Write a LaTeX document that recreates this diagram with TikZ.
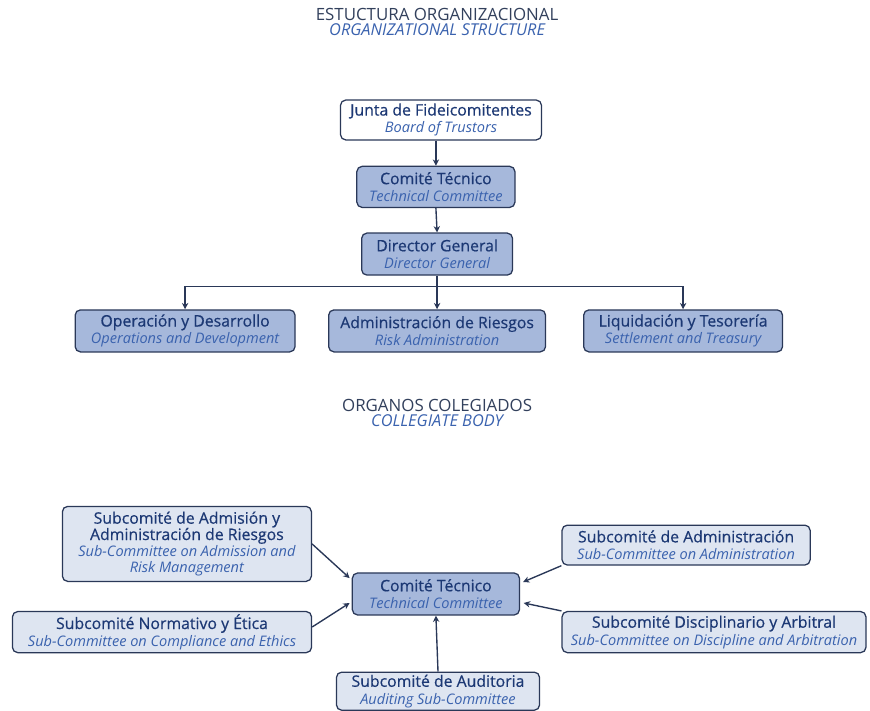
\documentclass[tikz,border=0pt]{standalone}
\usepackage{fontspec}
\setmainfont{Open Sans}
\newfontfamily\esfont{Open Sans}[FakeBold=0.5]
\usetikzlibrary{arrows.meta}
\definecolor{orgAzul}{RGB}{28,56,116}
\definecolor{orgAzulClaro}{RGB}{58,98,174}
\definecolor{orgTitulo}{RGB}{50,64,92}
\definecolor{orgBorde}{RGB}{42,56,88}
\definecolor{orgFondo}{RGB}{166,184,219}
\definecolor{orgFondoClaro}{RGB}{222,229,241}
\newcommand{\es}[1]{{\color{orgAzul}\esfont\fontsize{15}{16.5}\selectfont #1}}
\newcommand{\en}[1]{{\color{orgAzulClaro}\fontsize{13.8}{16.5}\selectfont\itshape #1}}

\begin{document}
\begin{tikzpicture}[
  x=1cm, y=1cm, >={Stealth[length=6pt,width=6pt]},
  caja/.style={draw=orgBorde, line width=1.2pt, rounded corners=5pt, align=center,
               fill=orgFondo, inner sep=1pt, font=\fontsize{15}{16.5}\selectfont},
  cajaclara/.style={caja, fill=orgFondoClaro},
  flecha/.style={->, line width=1.3pt, orgBorde},
  titulo/.style={align=center, font=\fontsize{16}{14.5}\selectfont}
]
\useasboundingbox (0,0) rectangle (29,23.7);

% estructura organizacional
\node[titulo] (tit1) at (14.57,22.97)
     {{\color{orgTitulo}ESTUCTURA ORGANIZACIONAL}\\
      {\color{orgAzulClaro}\fontsize{15.5}{14.5}\selectfont\itshape ORGANIZATIONAL STRUCTURE}};

\node[caja, fill=white, minimum width=6.7cm, minimum height=1.33cm] (junta) at (14.7,19.7)
     {\es{Junta de Fideicomitentes}\\\en{Board of Trustors}};
\node[caja, minimum width=5.27cm, minimum height=1.37cm] (comite) at (14.53,17.47)
     {\es{Comité Técnico}\\\en{Technical Committee}};
\node[caja, minimum width=5.03cm, minimum height=1.4cm] (dir) at (14.57,15.23)
     {\es{Director General}\\\en{Director General}};

\node[caja, minimum width=7.33cm, minimum height=1.4cm] (oper) at (6.17,12.67)
     {\es{Operación y Desarrollo}\\\en{Operations and Development}};
\node[caja, minimum width=7.23cm, minimum height=1.4cm] (riesgos) at (14.57,12.67)
     {\es{Administración de Riesgos}\\\en{Risk Administration}};
\node[caja, minimum width=6.63cm, minimum height=1.4cm] (liq) at (22.77,12.67)
     {\es{Liquidación y Tesorería}\\\en{Settlement and Treasury}};

\draw[flecha] (junta.south -| comite.north) -- (comite.north);
\draw[flecha] (comite.south) -- (dir.north);
\draw[flecha] (dir.south) -- (riesgos.north);
\path (dir.south) -- (riesgos.north) coordinate[pos=0.32] (rama);
\draw[flecha] (rama) -| (oper.north);
\draw[flecha] (rama) -| (liq.north);

% organos colegiados
\node[titulo] (tit2) at (14.57,9.94)
     {{\color{orgTitulo}ORGANOS COLEGIADOS}\\
      {\color{orgAzulClaro}\fontsize{15.5}{14.5}\selectfont\itshape COLLEGIATE BODY}};

\node[caja, minimum width=5.57cm, minimum height=1.4cm] (ct) at (14.53,3.9)
     {\es{Comité Técnico}\\\en{Technical Committee}};
\node[cajaclara, minimum width=8.3cm, minimum height=2.5cm] (admision) at (6.23,5.57)
     {\es{Subcomité de Admisión y}\\[-1pt]\es{Administración de Riesgos}\\[-1pt]
      \en{Sub-Committee on Admission and}\\[-1pt]\en{Risk Management}};
\node[cajaclara, minimum width=9.97cm, minimum height=1.37cm] (normativo) at (5.4,2.63)
     {\es{Subcomité Normativo y Ética}\\\en{Sub-Committee on Compliance and Ethics}};
\node[cajaclara, minimum width=8.27cm, minimum height=1.33cm] (admin) at (22.87,5.53)
     {\es{Subcomité de Administración}\\\en{Sub-Committee on Administration}};
\node[cajaclara, minimum width=10.13cm, minimum height=1.37cm] (discip) at (23.8,2.63)
     {\es{Subcomité Disciplinario y Arbitral}\\\en{Sub-Committee on Discipline and Arbitration}};
\node[cajaclara, minimum width=6.77cm, minimum height=1.27cm] (audit) at (14.6,0.66)
     {\es{Subcomité de Auditoria}\\\en{Auditing Sub-Committee}};

\draw[flecha] (admision.east) -- ([shift={(-0.07,0.53)}]ct.west);
\draw[flecha] ([yshift=0.17cm]normativo.east) -- ([shift={(-0.07,-0.3)}]ct.west);
\draw[flecha] (admin.south west) -- ([shift={(0.1,0.4)}]ct.east);
\draw[flecha] (discip.north west) -- ([shift={(0.12,-0.3)}]ct.east);
\draw[flecha] (audit.north) -- (ct.south);
\end{tikzpicture}
\end{document}
